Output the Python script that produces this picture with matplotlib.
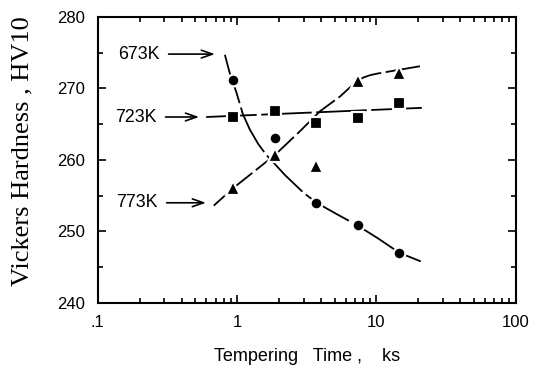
import matplotlib
matplotlib.use("Agg")
import matplotlib.pyplot as plt
from matplotlib.ticker import LogLocator, FixedLocator, NullFormatter

times = [0.93, 1.86, 3.66, 7.35, 14.5]
hv_673 = [271.2, 263.0, 254.0, 250.9, 247.0]
hv_723 = [266.0, 266.8, 265.1, 265.9, 268.0]
hv_773 = [256.0, 260.7, 259.1, 271.0, 272.2]

# hand-drawn fit curves
fit673_t = [0.817, 0.887, 0.99, 1.10, 1.23, 1.42, 1.62, 1.87, 2.2, 2.52, 3.0, 3.72,
            5.2, 7.2, 10.3, 14.6, 20.8]
fit673_hv = [274.7, 272.1, 269.4, 266.4, 264.3, 262.2, 260.7, 259.4, 257.9, 256.8, 255.4, 254.0,
             252.4, 250.9, 249.0, 247.0, 245.8]
fit723_t = [0.60, 22.3]
fit723_hv = [266.0, 267.3]
fit773_t = [0.68, 0.93, 1.87, 2.82, 3.93, 5.5, 6.5, 7.39, 8.0, 9.0, 10.0, 11.8, 14.5, 20.5]
fit773_hv = [253.6, 256.0, 260.7, 264.0, 266.8, 268.9, 270.2, 271.0, 271.5, 271.85, 272.05,
             272.3, 272.6, 273.1]

labels = ["673K", "723K", "773K"]
label_y = [274.8, 266.0, 254.0]

xticks = [0.1, 1, 10, 100]
xticklabels = [".1", "1", "10", "100"]
yticks = [240, 250, 260, 270, 280]

SANS = "Liberation Sans"
SERIF = "Liberation Serif"


def main():
    fig = plt.figure(figsize=(5.43, 3.68), dpi=100)
    ax = fig.add_axes([0.180, 0.177, 0.770, 0.777])
    ax.set_xscale("log")
    ax.set_xlim(0.1, 100)
    ax.set_ylim(240, 280)

    dash = (0, (28, 2.5))
    for ft, fh in [(fit673_t, fit673_hv), (fit723_t, fit723_hv), (fit773_t, fit773_hv)]:
        ax.plot(ft, fh, color="black", lw=1.3, linestyle=dash, zorder=2)

    mk = dict(color="black", linestyle="none", mec="white", mew=1.6, zorder=3)
    ax.plot(times, hv_673, marker="o", ms=8.5, **mk)
    ax.plot(times, hv_723, marker="s", ms=8, **mk)
    ax.plot(times, hv_773, marker="^", ms=10, **mk)

    # arrow labels
    arrow_x = [(0.308, 0.726), (0.293, 0.559), (0.298, 0.626)]
    for lab, ly, (x0, x1) in zip(labels, label_y, arrow_x):
        ax.annotate("", xy=(x1, ly), xytext=(x0, ly),
                    arrowprops=dict(arrowstyle="->,head_length=0.8,head_width=0.28",
                                    color="black", lw=1.2))
        ax.text(x0 * 0.9, ly, lab, ha="right", va="center",
                fontsize=12.8, family=SANS)

    ax.xaxis.set_major_locator(FixedLocator(xticks))
    ax.xaxis.set_minor_locator(LogLocator(base=10, subs=range(2, 10)))
    ax.xaxis.set_minor_formatter(NullFormatter())
    ax.set_xticklabels(xticklabels)
    ax.set_yticks(yticks)
    ax.yaxis.set_minor_locator(FixedLocator([245, 255, 265, 275]))

    ax.tick_params(which="both", direction="in", top=True, right=True,
                   width=1.2, color="black")
    ax.tick_params(which="major", length=6)
    ax.tick_params(which="minor", length=3.5)
    ax.tick_params(axis="x", which="major", pad=9)
    ax.tick_params(axis="y", which="major", pad=9)
    for t in ax.get_xticklabels() + ax.get_yticklabels():
        t.set_family(SANS)
        t.set_fontsize(12)
    for s in ax.spines.values():
        s.set_linewidth(1.5)

    ax.set_xlabel("Tempering   Time ,    ks", fontsize=13, family=SANS, labelpad=13)
    fig.text(22 / 543, 1 - 151 / 368, "Vickers Hardness , HV10", rotation=90,
             ha="center", va="center", fontsize=19, family=SERIF)

    fig.savefig("out.png", dpi=100)


if __name__ == "__main__":
    main()
